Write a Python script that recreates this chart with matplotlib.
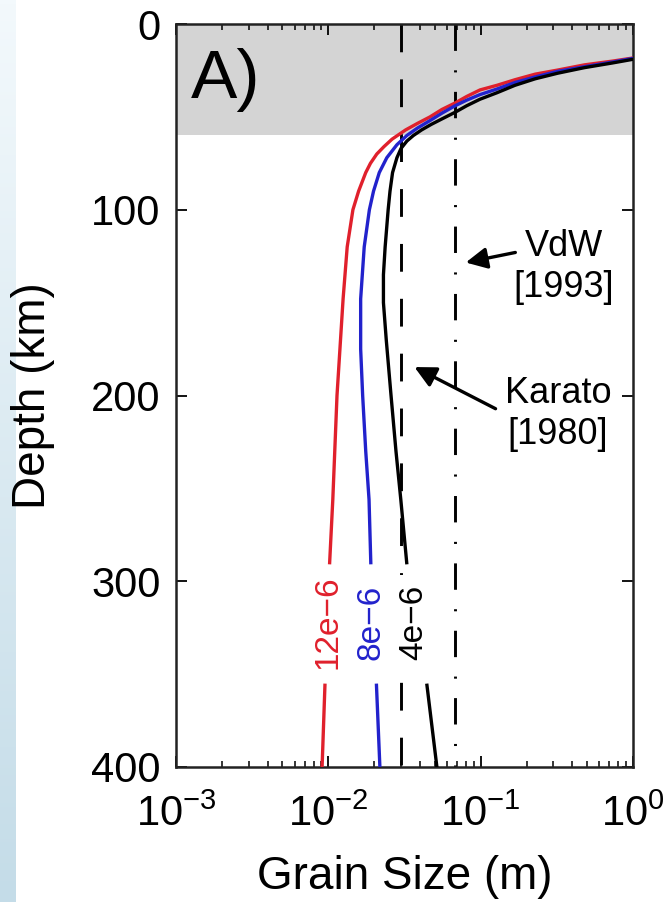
import numpy as np
import matplotlib
matplotlib.use('Agg')
from matplotlib import pyplot as plt
from matplotlib.colors import LinearSegmentedColormap

plt.rcParams['font.family'] = ['Liberation Sans', 'DejaVu Sans']
plt.rcParams['mathtext.fontset'] = 'custom'
plt.rcParams['mathtext.rm'] = 'Liberation Sans'
plt.rcParams['mathtext.default'] = 'regular'
plt.rcParams['lines.scale_dashes'] = False

# grain size profiles (m) vs depth (km); nan marks the break under each label
depth_12 = [18.3, 20, 22, 24.8, 27, 30, 33, 35.5, 39, 42.5, 46, 50, 53.5, 57, 62, 66, 70, 75,
            80, 90, 100, 120, 148, 200, 256, 290, np.nan, 356, 400]
grain_12 = [1.0, 0.73, 0.48, 0.32, 0.228, 0.168, 0.128, 0.099, 0.081, 0.068, 0.0557, 0.0465,
            0.0385, 0.0322, 0.0262, 0.0232, 0.0208, 0.0189, 0.0176, 0.0158, 0.0145, 0.0133,
            0.0125, 0.0114, 0.0107, 0.0102, np.nan, 0.0095, 0.0091]
depth_8 = [18.5, 20.5, 23, 25.5, 28.5, 31.5, 35, 38, 41, 44, 48, 52, 56, 60, 65, 72, 80, 90,
           100, 120, 148, 175, 200, 230, 256, 290, np.nan, 356, 400]
grain_8 = [1.0, 0.73, 0.48, 0.32, 0.228, 0.168, 0.128, 0.099, 0.081, 0.068, 0.0557, 0.0465,
           0.0385, 0.0328, 0.0282, 0.0242, 0.0216, 0.0198, 0.0186, 0.0172, 0.0163, 0.0163,
           0.0168, 0.0176, 0.0185, 0.0190, np.nan, 0.0207, 0.0218]
depth_4 = [19, 21, 23.5, 26.5, 29.5, 33, 37, 40.5, 44, 47.5, 51, 54, 57, 60, 63, 67, 72, 80,
           90, 100, 120, 135, 150, 170, 200, 230, 256, 290, np.nan, 356, 400]
grain_4 = [1.0, 0.73, 0.48, 0.32, 0.228, 0.168, 0.128, 0.099, 0.081, 0.068, 0.056, 0.0475,
           0.041, 0.0362, 0.0328, 0.0300, 0.0282, 0.0264, 0.0254, 0.0247, 0.0236, 0.0230,
           0.0230, 0.0240, 0.0258, 0.0278, 0.0299, 0.0327, np.nan, 0.0444, 0.0516]

curve_labels = ['12e\u22126', '8e\u22126', '4e\u22126']
curve_colors = ['#e0202c', '#2222cc', 'black']
label_x = [0.0099, 0.0190, 0.0366]
label_depth = 322

karato_size = 0.03    # Karato [1980]
vdw_size = 0.068      # VdW [1993]
lith_depth = 60

fig = plt.figure(figsize=(6.71, 9.02), dpi=100)

# pale blue strip down the left edge
strip = fig.add_axes([0, 0, 16 / 671, 1])
cmap = LinearSegmentedColormap.from_list('strip', ['#f3f9fc', '#c4dce8'])
strip.imshow(np.linspace(0, 1, 256).reshape(-1, 1), cmap=cmap, aspect='auto')
strip.axis('off')

ax = fig.add_axes([176 / 671, 1 - 767 / 902, 457 / 671, 743 / 902])
ax.axhspan(0, lith_depth, color='#d4d4d4', lw=0, zorder=0)

for d, g, c in zip([depth_12, depth_8, depth_4], [grain_12, grain_8, grain_4], curve_colors):
    ax.plot(g, d, color=c, lw=2.4, zorder=3, solid_joinstyle='round')

ax.plot([karato_size, karato_size], [0, 400], color='black', lw=2.1, dashes=(20, 19.5), zorder=2)
ax.plot([vdw_size, vdw_size], [0, 400], color='black', lw=2.1,
        dashes=(19, 14, 1.5, 14), zorder=2)

# labels sit on white so the lines behind them break
for txt, c, x in zip(curve_labels, curve_colors, label_x):
    ax.text(x, label_depth, txt, color=c, fontsize=24, rotation=90,
            ha='center', va='center', zorder=4,
            bbox=dict(facecolor='white', edgecolor='none', pad=7))

ax.text(0.00125, 30, 'A)', fontsize=50, ha='left', va='center')

ax.annotate('', xy=(0.0766, 128.7), xytext=(0.176, 122.7),
            arrowprops=dict(arrowstyle='-|>', color='black', lw=2.4, mutation_scale=32))
ax.text(0.352, 130.8, 'VdW\n[1993]', fontsize=26, ha='center', va='center',
        linespacing=1.2)
ax.annotate('', xy=(0.0354, 184), xytext=(0.130, 207.8),
            arrowprops=dict(arrowstyle='-|>', color='black', lw=2.4, mutation_scale=32))
ax.text(0.322, 210, 'Karato\n[1980]', fontsize=26, ha='center', va='center',
        linespacing=1.2)

ax.set_xscale('log')
ax.set_xlim(1e-3, 1)
ax.set_ylim(400, 0)
ax.set_yticks([0, 100, 200, 300, 400])
ax.set_xticks([1e-3, 1e-2, 1e-1, 1])
ax.tick_params(which='both', direction='in', top=True, right=True, labelsize=30)
ax.tick_params(which='major', length=8, width=1.3)
ax.tick_params(which='minor', length=4.5, width=1.1)
ax.tick_params(axis='y', pad=11)
ax.tick_params(axis='x', pad=20)
for s in ax.spines.values():
    s.set_linewidth(1.8)
    s.set_color('#222222')

ax.set_xlabel('Grain Size (m)', fontsize=33, labelpad=14)
ax.set_ylabel('Depth (km)', fontsize=33, labelpad=26)

fig.savefig('out.png', dpi=100)
